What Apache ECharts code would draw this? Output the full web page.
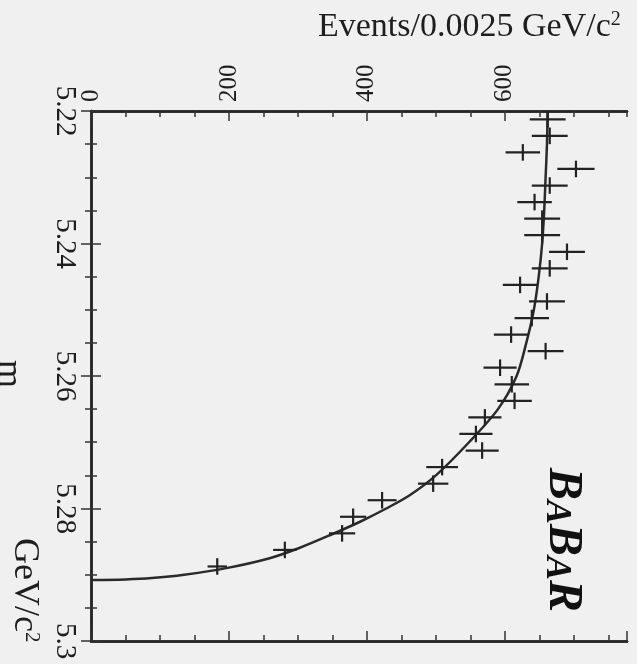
<!DOCTYPE html>
<html>
<head>
<meta charset="utf-8">
<script src="https://cdn.jsdelivr.net/npm/echarts@6/dist/echarts.min.js"></script>
<style>
  html, body { margin: 0; padding: 0; background: #f0f0f0; }
  #chart { width: 637px; height: 664px; }
</style>
</head>
<body>
<div id="chart"></div>
<script>
// m_ES bin centres (GeV/c^2), bin width 0.0025
const binCenters = [
  5.22125, 5.22375, 5.22625, 5.22875, 5.23125, 5.23375, 5.23625, 5.23875,
  5.24125, 5.24375, 5.24625, 5.24875, 5.25125, 5.25375, 5.25625, 5.25875,
  5.26125, 5.26375, 5.26625, 5.26875, 5.27125, 5.27375, 5.27625, 5.27875,
  5.28125, 5.28375, 5.28625, 5.28875
];
// events per bin
const binEvents = [
  662, 665, 626, 703, 665, 643, 654, 654,
  690, 665, 622, 661, 639, 609, 659, 593,
  610, 614, 571, 558, 567, 509, 496, 422,
  380, 364, 281, 183
];
// statistical uncertainty per bin (events)
const binErrors = [
  26, 26, 25, 27, 26, 25, 26, 26,
  26, 26, 25, 26, 25, 25, 26, 24,
  25, 25, 24, 24, 24, 23, 22, 21,
  19, 19, 17, 14
];
const binHalfWidth = 0.00125;

// fitted background shape
const fitMass = [
  5.2200, 5.2250, 5.2300, 5.2350, 5.2400, 5.2450, 5.2500, 5.2550,
  5.2600, 5.2650, 5.2700, 5.2750, 5.2780, 5.2800, 5.2820, 5.2840,
  5.2860, 5.2875, 5.2890, 5.2900, 5.2905, 5.2907, 5.2908
];
const fitEvents = [
  662, 661, 659, 657, 654, 649, 642, 631,
  617, 590, 548, 500, 462, 428, 390, 347,
  301, 259, 196, 135, 88, 50, 0
];

const eventsMax = 777;
const massMin = 5.22, massMax = 5.30;

const serif = 'Liberation Serif';
const ink = '#1e1e1e';

const chart = echarts.init(document.getElementById('chart'), null, { renderer: 'canvas' });

const frameLine = { show: true, lineStyle: { color: '#262626', width: 2.5 } };
const noSplit = { show: false };

function eventsAxis(position, interval, tickLen, withLabels) {
  return {
    type: 'value', position, min: 0, max: eventsMax, interval,
    axisLine: frameLine,
    axisTick: { show: true, inside: true, length: tickLen, lineStyle: { color: '#333', width: 1.5 } },
    axisLabel: withLabels ? {
      show: true, rotate: -90, margin: 9, fontFamily: serif, fontSize: 25, color: ink,
      showMaxLabel: false
    } : { show: false },
    splitLine: noSplit
  };
}

function massAxis(position, withLabels) {
  return {
    type: 'value', position, inverse: true, min: massMin, max: massMax, interval: 0.02,
    axisLine: frameLine,
    axisTick: { show: true, inside: true, length: 10, lineStyle: { color: '#333', width: 1.5 } },
    minorTick: { show: true, splitNumber: 4, length: 6, lineStyle: { color: '#333', width: 1.5 } },
    axisLabel: withLabels ? {
      show: true, rotate: -90, margin: 12, fontFamily: serif, fontSize: 29, color: ink,
      formatter: v => String(+(+v).toFixed(2))
    } : { show: false },
    splitLine: noSplit,
    minorSplitLine: noSplit
  };
}

const pointData = binCenters.map((m, i) => [binEvents[i], m, binErrors[i]]);
const fitData = fitMass.map((m, i) => [fitEvents[i], m]);

chart.setOption({
  backgroundColor: '#f0f0f0',
  animation: false,
  grid: { left: 91, top: 111, width: 536, height: 530, containLabel: false },
  xAxis: [
    eventsAxis('top', 200, 10, true),
    eventsAxis('top', 50, 6, false),
    eventsAxis('bottom', 200, 10, false),
    eventsAxis('bottom', 50, 6, false)
  ],
  yAxis: [
    massAxis('left', true),
    massAxis('right', false)
  ],
  series: [
    {
      type: 'line',
      xAxisIndex: 0, yAxisIndex: 0,
      data: fitData,
      showSymbol: false,
      smooth: 0.3,
      lineStyle: { color: '#2a2a2a', width: 2.5 },
      z: 3
    },
    {
      type: 'custom',
      xAxisIndex: 0, yAxisIndex: 0,
      data: pointData,
      encode: { x: 0, y: 1 },
      renderItem(params, api) {
        const ev = api.value(0), m = api.value(1), e = api.value(2);
        const l = api.coord([ev - e, m]);
        const r = api.coord([ev + e, m]);
        const t = api.coord([ev, m - binHalfWidth]);
        const b = api.coord([ev, m + binHalfWidth]);
        const st = { stroke: '#222', lineWidth: 2.2 };
        return {
          type: 'group',
          children: [
            { type: 'line', shape: { x1: l[0], y1: l[1], x2: r[0], y2: r[1] }, style: st },
            { type: 'line', shape: { x1: t[0], y1: t[1], x2: b[0], y2: b[1] }, style: st }
          ]
        };
      },
      z: 4
    }
  ],
  graphic: [
    {
      type: 'text', x: 318, y: 10,
      style: {
        text: '{a|Events/0.0025 GeV/c}{s|2}',
        fill: ink,
        rich: {
          a: { fontFamily: serif, fontSize: 34, lineHeight: 34, fill: ink },
          s: { fontFamily: serif, fontSize: 20, lineHeight: 20, verticalAlign: 'top', fill: ink }
        }
      }
    },
    {
      type: 'text', x: 24, y: 538, rotation: -Math.PI / 2,
      style: {
        text: '{a|GeV/c}{s|2}',
        verticalAlign: 'middle', textVerticalAlign: 'middle',
        fill: ink,
        rich: {
          a: { fontFamily: serif, fontSize: 36, lineHeight: 36, fill: ink },
          s: { fontFamily: serif, fontSize: 21, lineHeight: 21, verticalAlign: 'top', fill: ink }
        }
      }
    },
    {
      type: 'text', x: 8, y: 360, rotation: -Math.PI / 2,
      style: {
        text: 'm', fontFamily: serif, fontSize: 36, fill: ink,
        verticalAlign: 'middle', textVerticalAlign: 'middle'
      }
    },
    {
      type: 'text', x: 562, y: 468, rotation: -Math.PI / 2,
      style: {
        text: '{b|B}{a|A}{b|B}{a|A}{b|R}',
        verticalAlign: 'middle', textVerticalAlign: 'middle',
        fill: '#111',
        rich: {
          b: { fontFamily: serif, fontStyle: 'italic', fontWeight: 'bold', fontSize: 48, lineHeight: 48, verticalAlign: 'bottom', fill: '#111' },
          a: { fontFamily: serif, fontStyle: 'italic', fontWeight: 'bold', fontSize: 36, lineHeight: 40, verticalAlign: 'bottom', fill: '#111' }
        }
      }
    }
  ]
});
</script>
</body>
</html>
